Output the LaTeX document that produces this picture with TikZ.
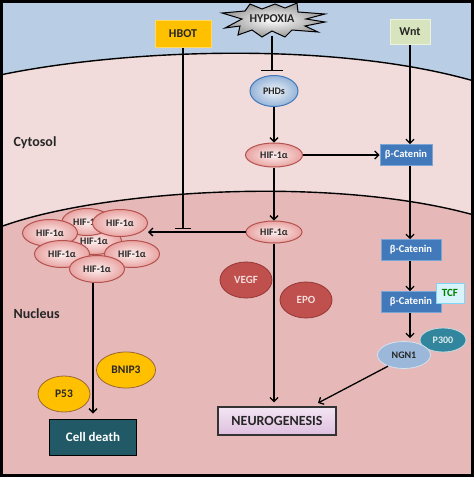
\documentclass[tikz,border=0pt]{standalone}
\usepackage{fontspec}
\setmainfont{Carlito}
\usetikzlibrary{shapes.geometric,arrows.meta,calc}
\definecolor{topfill}{HTML}{B9CDE5}
\definecolor{cytfill}{HTML}{F2DCDB}
\definecolor{nucfill}{HTML}{E6B9B8}
\definecolor{hifin}{HTML}{FDF0F0}
\definecolor{hifout}{HTML}{E8A3A1}
\definecolor{hifdraw}{HTML}{B5524F}
\definecolor{orangey}{HTML}{FFC000}
\definecolor{wntfill}{HTML}{D7E4BD}
\definecolor{bcatfill}{HTML}{4279BA}
\definecolor{bcatdraw}{HTML}{7AA6D6}
\definecolor{redfill}{HTML}{C0504D}
\definecolor{reddraw}{HTML}{943634}
\definecolor{ngnfill}{HTML}{9BB8DA}
\definecolor{tealc}{HTML}{31859C}
\definecolor{cdfill}{HTML}{215967}
\definecolor{txt}{HTML}{262626}
\begin{document}
\begin{tikzpicture}[x=1pt,y=-1pt,
  bf/.style={font=\fontsize{#1}{#1}\selectfont\bfseries},
  region/.style={anchor=west, bf=14, text=txt},
  membrane/.style={line width=1.4pt, black},
  conn/.style={line width=1.3pt, -{Straight Barb[length=4pt,width=8pt,line width=1.3pt]}},
  block/.style={line width=1.3pt, -{Bar[width=#1,line width=1.3pt]}},
  hif/.style={ellipse, draw=hifdraw, line width=1pt, inner color=hifin, outer color=hifout,
    minimum width=55pt, minimum height=27pt, inner sep=0pt, bf=10, text=txt},
  hbotbox/.style={rectangle, fill=orangey, draw=orangey!60, line width=0.8pt,
    minimum width=56pt, minimum height=27pt, bf=12, text=txt},
  wntbox/.style={rectangle, fill=wntfill, draw=wntfill!50, line width=0.8pt,
    minimum width=40pt, minimum height=25pt, bf=12, text=txt},
  phds/.style={ellipse, draw=bcatfill, line width=1pt, inner color=white!80!topfill, outer color=topfill!70!bcatfill,
    minimum width=48pt, minimum height=31pt, inner sep=0pt, bf=10, text=txt},
  bcat/.style={rectangle, fill=bcatfill, draw=bcatdraw, line width=0.8pt,
    minimum width=#1, minimum height=21pt, inner sep=1pt, bf=10.5, text=white},
  tcfbox/.style={rectangle, fill=cyan!15!white, draw=cyan!50!white, line width=0.8pt,
    minimum width=28pt, minimum height=20pt, inner sep=0pt, bf=11, text=green!50!black},
  redell/.style={ellipse, fill=redfill, draw=reddraw, line width=0.8pt,
    minimum width=52pt, minimum height=36pt, inner sep=0pt, bf=11, text=cytfill},
  ngnell/.style={ellipse, fill=ngnfill, draw=topfill!60!white, line width=0.8pt,
    minimum width=53pt, minimum height=27pt, inner sep=0pt, bf=10, text=txt},
  p300ell/.style={ellipse, fill=tealc, draw=tealc!30!white, line width=0.8pt,
    minimum width=46pt, minimum height=24pt, inner sep=0pt, bf=10, text=tealc!15!white},
  neurobox/.style={rectangle, top color=white!90!violet, bottom color=violet!25!white, draw=black!80, line width=1.2pt,
    minimum width=118pt, minimum height=28pt, bf=14, text=txt},
  cdbox/.style={rectangle, fill=cdfill, draw=black, line width=1pt,
    minimum width=87pt, minimum height=36pt, bf=13, text=white},
  yelell/.style={ellipse, fill=orangey, draw=brown!80!black, line width=0.8pt,
    minimum width=#1, minimum height=36pt, inner sep=0pt, bf=11.5, text=txt}
  ]
\useasboundingbox (0,0) rectangle (474,477);
% backgrounds
\fill[nucfill] (0,0) rectangle (474,477);
\fill[cytfill] (0,0) -- (0,227) .. controls (100,190) and (330,175) .. (474,215) -- (474,0) -- cycle;
\fill[topfill] (0,0) -- (0,75) .. controls (120,50) and (330,40) .. (474,81) -- (474,0) -- cycle;
\draw[membrane] (0,75) .. controls (120,50) and (330,40) .. (474,81);
\draw[membrane] (0,227) .. controls (100,190) and (330,175) .. (474,215);

% region labels
\node[region] (cyto) at (10,143) {Cytosol};
\node[region] (nucl) at (10,314) {Nucleus};

% HYPOXIA starburst
\shadedraw[inner color=white, outer color=black!40, draw=black, line width=1pt]
  (222,13) -- (245,11) -- (250,4) -- (262,9) -- (275,4) -- (285,8) -- (297,3) -- (298,12)
  -- (325,14) -- (306,19) -- (325,22) -- (305,26) -- (318,32) -- (292,30) -- (285,37)
  -- (272,31) -- (262,37) -- (252,30) -- (238,35) -- (240,26) -- (225,28) -- (242,19) -- cycle;
\node[bf=12, text=txt, minimum height=34pt, inner sep=0pt] (hyp) at (272,19) {HYPOXIA};

\node[hbotbox] (hbot) at (183,34) {HBOT};
\node[wntbox] (wnt) at (410,32) {Wnt};
\node[phds] (phd) at (274,91) {PHDs};
\node[hif, minimum width=57pt, minimum height=24pt] (hifc) at (274,155) {HIF-1α};
\node[bcat=52pt] (bc1) at (406,155) {β-Catenin};
\node[bcat=60pt] (bc2) at (411,250) {β-Catenin};
\node[bcat=60pt] (bc3) at (411,302) {β-Catenin};
\node[tcfbox] (tcf) at (450,293) {TCF};
\node[hif, minimum width=56pt, minimum height=22pt] (hifn) at (274,232) {HIF-1α};
\node[redell] (vegf) at (246,280) {VEGF};
\node[redell] (epo) at (306,300) {EPO};
\node[p300ell] (p300) at (443,340) {P300};
\node[ngnell] (ngn) at (404,355) {NGN1};
\node[neurobox] (neuro) at (277,421) {NEUROGENESIS};
\node[cdbox] (cd) at (93,437) {Cell death};
\node[yelell=52pt] (p53) at (64,394) {P53};
\node[yelell=59pt] (bnip) at (126,370) {BNIP3};

% HIF-1alpha cluster
\node[hif] (hD) at (94,241) {HIF-1α};
\node[hif, minimum width=50pt] (hA) at (87,222) {HIF-1α};
\node[hif] (hB) at (120,223) {HIF-1α};
\node[hif] (hC) at (50,233) {HIF-1α};
\node[hif] (hE) at (62,254) {HIF-1α};
\node[hif] (hF) at (132,254) {HIF-1α};
\node[hif] (hG) at (97,269) {HIF-1α};

% connectors
\coordinate (hbotend) at (183,229);
\coordinate (hyptend) at (272,71);
\coordinate (ngtip) at (318,403);
\draw[block=16pt] (hbot.south) -- (hbotend);
\draw[block=22pt] (hyp.south) -- (hyptend);
\draw[conn] (phd) -- (hifc);
\draw[conn] (hifc) -- (bc1);
\draw[conn] (hifc) -- (hifn);
\draw[conn] (hifn.west) -- (hifn.west -| hB.east);
\draw[conn] (wnt.south) -- (wnt.south |- bc1.north);
\draw[conn] (bc1.south -| wnt.south) -- (wnt.south |- bc2.north);
\draw[conn] (bc2.south -| wnt.south) -- (wnt.south |- bc3.north);
\draw[conn, shorten >=3pt] (bc3.south -| wnt.south) -- (wnt.south |- ngn.north);
\draw[conn] (ngn.215) -- (ngtip);
\draw[conn, shorten >=4pt] (hifn.south) -- (hifn.south |- neuro.north);
\draw[conn, shorten >=5pt] (cd.north |- hG.south) -- (cd.north);

% frame
\draw[line width=3pt, black] (1.5,1.5) rectangle (472.5,475.5);
\end{tikzpicture}
\end{document}
